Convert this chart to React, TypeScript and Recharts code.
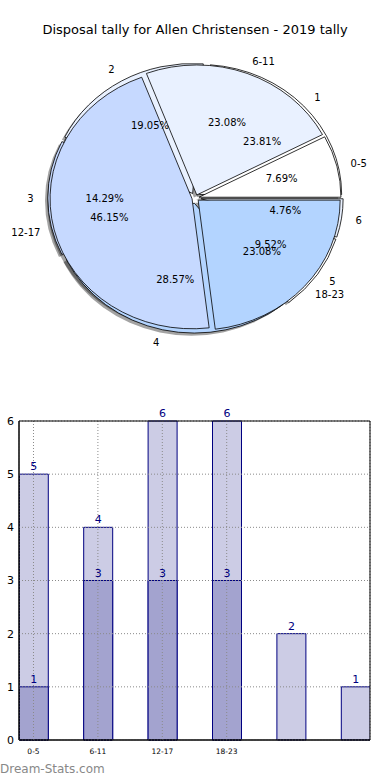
import React from "react";
import {
  PieChart,
  Pie,
  ComposedChart,
  Bar,
  XAxis,
  YAxis,
  CartesianGrid,
  LabelList,
  ReferenceArea,
} from "recharts";

// pie: tally by age bracket (outer labels) and by quarter (numbered labels)
const ageGroups = ["0-5", "6-11", "12-17", "18-23"];
const ageTally = [1, 3, 6, 3];
const quarters = ["1", "2", "3", "4", "5", "6"];
const quarterTally = [5, 4, 3, 6, 2, 1];

// bar chart
const barSlots = ["0-5", "6-11", "12-17", "18-23", "", ""];
const barTotals = [5, 4, 6, 6, 2, 1];
const barParts: (number | null)[] = [1, 3, 3, 3, null, null];
const yTicks = [0, 1, 2, 3, 4, 5, 6];

const PIE_COLORS = ["#ffffff", "#e9f1ff", "#c6d9ff", "#b3d4ff"];
const RAD = Math.PI / 180;
const ASPECT = 142 / 130;
const X_DOMAIN: [number, number] = [-0.225, 5.225];

const ageData = ageGroups.map((name, i) => ({ name, value: ageTally[i] }));
const quarterData = quarters.map((name, i) => ({ name, value: quarterTally[i] }));
const barRows = barSlots.map((label, i) => ({
  pos: i,
  label,
  total: barTotals[i],
  part: barParts[i],
}));

function wedgePath(cx: number, cy: number, rx: number, ry: number, a0: number, a1: number) {
  const x0 = cx + rx * Math.cos(a0 * RAD);
  const y0 = cy - ry * Math.sin(a0 * RAD);
  const x1 = cx + rx * Math.cos(a1 * RAD);
  const y1 = cy - ry * Math.sin(a1 * RAD);
  const large = Math.abs(a1 - a0) > 180 ? 1 : 0;
  return `M${cx},${cy}L${x0},${y0}A${rx},${ry} 0 ${large} 0 ${x1},${y1}Z`;
}

type Layer = "shadow" | "wedge" | "text";

// sectors are drawn as ellipse wedges (the original pie isn't aspect-locked)
const pieLayer = (layer: Layer, explode: number) => (p: any) => {
  const rx = p.outerRadius * ASPECT;
  const ry = p.outerRadius;
  const mid = ((p.startAngle + p.endAngle) / 2) * RAD;
  const ox = p.cx + explode * rx * Math.cos(mid);
  const oy = p.cy - explode * ry * Math.sin(mid);
  if (layer === "shadow") {
    return (
      <path
        d={wedgePath(ox - 0.02 * rx, oy + 0.02 * ry, rx, ry, p.startAngle, p.endAngle)}
        fill="#000"
        fillOpacity={0.36}
        stroke="none"
      />
    );
  }
  if (layer === "wedge") {
    return (
      <path
        d={wedgePath(ox, oy, rx, ry, p.startAngle, p.endAngle)}
        fill={PIE_COLORS[p.index % PIE_COLORS.length]}
        stroke="#000"
        strokeWidth={0.8}
      />
    );
  }
  const lx = ox + 1.1 * rx * Math.cos(mid);
  const ly = oy - 1.1 * ry * Math.sin(mid);
  const px = ox + 0.6 * rx * Math.cos(mid);
  const py = oy - 0.6 * ry * Math.sin(mid);
  return (
    <g fontSize={10} fill="#000">
      <text x={lx} y={ly} textAnchor={lx > p.cx ? "start" : "end"} dominantBaseline="central">
        {p.name}
      </text>
      <text x={px} y={py} textAnchor="middle" dominantBaseline="central">
        {(p.percent * 100).toFixed(2)}%
      </text>
    </g>
  );
};

function piece(data: { name: string; value: number }[], layer: Layer, explode: number, key: string) {
  return (
    <Pie
      key={key}
      data={data}
      dataKey="value"
      nameKey="name"
      cx={195.5}
      cy={198}
      outerRadius={130}
      startAngle={0}
      endAngle={360}
      fill="none"
      stroke="none"
      labelLine={false}
      label={pieLayer(layer, explode)}
      isAnimationActive={false}
    />
  );
}

const Q_EXPLODE = 0.04;
const A_EXPLODE = 0.025;

export default function App() {
  return (
    <div
      style={{
        position: "absolute",
        left: 0,
        top: 0,
        width: 390,
        height: 780,
        background: "#fff",
        fontFamily: "'DejaVu Sans', sans-serif",
      }}
    >
      <div
        style={{
          position: "absolute",
          top: 22,
          width: 390,
          textAlign: "center",
          fontSize: 13,
          lineHeight: "16px",
        }}
      >
        Disposal tally for Allen Christensen - 2019 tally
      </div>
      <div style={{ position: "absolute", top: 0, left: 0 }}>
        <PieChart width={390} height={370} margin={{ top: 0, right: 0, bottom: 0, left: 0 }}>
          {piece(quarterData, "shadow", Q_EXPLODE, "qs")}
          {piece(ageData, "shadow", A_EXPLODE, "as")}
          {piece(quarterData, "wedge", Q_EXPLODE, "qw")}
          {piece(ageData, "wedge", A_EXPLODE, "aw")}
          {piece(quarterData, "text", Q_EXPLODE, "qt")}
          {piece(ageData, "text", A_EXPLODE, "at")}
        </PieChart>
      </div>
      <div style={{ position: "absolute", top: 400, left: 0 }}>
        <ComposedChart
          width={390}
          height={380}
          data={barRows}
          margin={{ top: 21, right: 20, bottom: 24, left: 0 }}
        >
          <XAxis
            xAxisId="a"
            dataKey="pos"
            type="number"
            domain={X_DOMAIN}
            allowDataOverflow
            ticks={[0, 1, 2, 3]}
            interval={0}
            tickFormatter={(v: number) => barSlots[v]}
            axisLine={{ stroke: "#000" }}
            tickLine={false}
            tick={{ fontSize: 7.5, fill: "#000" }}
            tickMargin={3}
            height={16}
          />
          <XAxis
            xAxisId="b"
            dataKey="pos"
            type="number"
            domain={X_DOMAIN}
            allowDataOverflow
            ticks={[0, 1, 2, 3, 4, 5]}
            hide
          />
          <YAxis
            domain={[0, 6]}
            ticks={yTicks}
            interval={0}
            width={19}
            axisLine={{ stroke: "#000" }}
            tickLine={false}
            tickSize={0}
            tickMargin={5}
            tick={{ fontSize: 11, fill: "#000" }}
          />
          <Bar
            xAxisId="a"
            dataKey="total"
            fill="#ccccE5"
            stroke="#000080"
            strokeWidth={1}
            barSize={29}
            isAnimationActive={false}
          >
            <LabelList dataKey="total" position="top" offset={4} fill="#000080" fontSize={11} />
          </Bar>
          <Bar
            xAxisId="b"
            dataKey="part"
            fill="#a3a3cf"
            stroke="#000080"
            strokeWidth={1}
            barSize={29}
            isAnimationActive={false}
          >
            <LabelList dataKey="part" position="top" offset={4} fill="#000080" fontSize={11} />
          </Bar>
          <CartesianGrid xAxisId="a" stroke="#8a8a8a" strokeDasharray="1 2" zIndex={500} />
          <ReferenceArea
            xAxisId="a"
            x1={X_DOMAIN[0]}
            x2={X_DOMAIN[1]}
            y1={0}
            y2={6}
            fill="none"
            stroke="#000"
            strokeWidth={1}
            ifOverflow="visible"
            zIndex={600}
          />
        </ComposedChart>
      </div>
      <div
        style={{
          position: "absolute",
          top: 761,
          left: 0,
          fontSize: 12,
          color: "#888",
          lineHeight: "16px",
        }}
      >
        Dream-Stats.com
      </div>
    </div>
  );
}
